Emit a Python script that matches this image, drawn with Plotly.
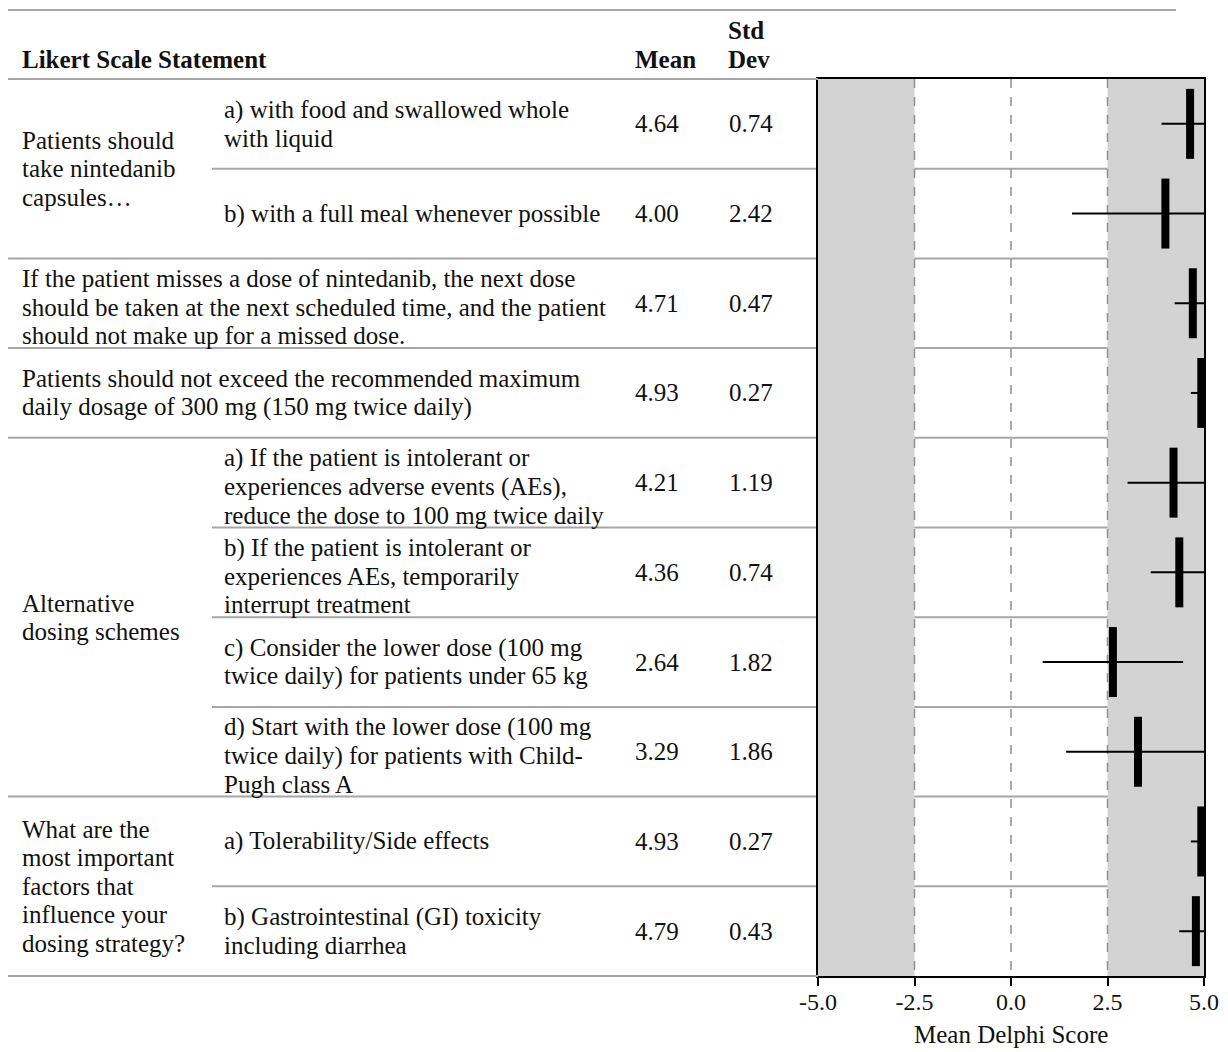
import plotly.graph_objects as go

# ---- data -------------------------------------------------------------
group_labels = [
    "Patients should\ntake nintedanib\ncapsules…",
    "Alternative\ndosing schemes",
    "What are the\nmost important\nfactors that\ninfluence your\ndosing strategy?",
]
group_rows = [(0, 1), (4, 7), (8, 9)]

statements = [
    "a) with food and swallowed whole\nwith liquid",
    "b) with a full meal whenever possible",
    "If the patient misses a dose of nintedanib, the next dose\nshould be taken at the next scheduled time, and the patient\nshould not make up for a missed dose.",
    "Patients should not exceed the recommended maximum\ndaily dosage of 300 mg (150 mg twice daily)",
    "a) If the patient is intolerant or\nexperiences adverse events (AEs),\nreduce the dose to 100 mg twice daily",
    "b) If the patient is intolerant or\nexperiences AEs, temporarily\ninterrupt treatment",
    "c) Consider the lower dose (100 mg\ntwice daily) for patients under 65 kg",
    "d) Start with the lower dose (100 mg\ntwice daily) for patients with Child-\nPugh class A",
    "a) Tolerability/Side effects",
    "b) Gastrointestinal (GI) toxicity\nincluding diarrhea",
]
is_sub_item = [True, True, False, False, True, True, True, True, True, True]

mean_scores = [4.64, 4.00, 4.71, 4.93, 4.21, 4.36, 2.64, 3.29, 4.93, 4.79]
std_devs = [0.74, 2.42, 0.47, 0.27, 1.19, 0.74, 1.82, 1.86, 0.27, 0.43]

tick_values = [-5.0, -2.5, 0.0, 2.5, 5.0]
tick_labels = ["-5.0", "-2.5", "0.0", "2.5", "5.0"]
agree_bands = [(-5.0, -2.5), (2.5, 5.0)]
axis_title = "Mean Delphi Score"

# ---- layout helpers (pixel -> paper) ---------------------------------
W, H = 1228, 1052
PLOT_L, PLOT_R = 818, 1204
PLOT_T, PLOT_B = 79, 976
n_rows = len(mean_scores)
row_h = (PLOT_B - PLOT_T) / n_rows
LINE_PITCH = 28.4


def px(x):
    return x / W


def py(y):
    return 1 - y / H


def row_center(i):
    return PLOT_T + row_h * (i + 0.5)


FONT = "Liberation Serif, Times New Roman, serif"
TXT = "#111111"
FS = 25
SEP = "#a6a6a6"

rows = list(range(n_rows))
y_pos = [r + 0.5 for r in rows]

fig = go.Figure()

# mean markers (thick vertical bar) with +/- SD whiskers
fig.add_trace(go.Scatter(
    x=mean_scores,
    y=y_pos,
    mode="markers",
    marker=dict(size=1, color="rgba(0,0,0,0)"),
    error_x=dict(type="data", array=std_devs, symmetric=True,
                 color="black", thickness=2, width=0),
    error_y=dict(type="constant", value=0.39, color="black",
                 thickness=8, width=0),
    showlegend=False,
    hoverinfo="skip",
))

shapes = []
# shaded bands
for x0, x1 in agree_bands:
    shapes.append(dict(type="rect", xref="x", yref="y", x0=x0, x1=x1,
                       y0=0, y1=n_rows, fillcolor="#d3d3d3",
                       line=dict(width=0), layer="below"))
# dashed reference lines
for xv in tick_values[1:-1]:
    shapes.append(dict(type="line", xref="x", yref="y", x0=xv, x1=xv,
                       y0=0, y1=n_rows,
                       line=dict(color="#8f8f8f", width=1.5, dash="dash"),
                       layer="below"))

# table rules
shapes.append(dict(type="line", xref="paper", yref="paper",
                   x0=px(8), x1=px(1176), y0=py(10), y1=py(10),
                   line=dict(color=SEP, width=2)))
shapes.append(dict(type="line", xref="paper", yref="paper",
                   x0=px(8), x1=px(PLOT_L), y0=py(PLOT_T), y1=py(PLOT_T),
                   line=dict(color=SEP, width=2)))
shapes.append(dict(type="line", xref="paper", yref="paper",
                   x0=px(8), x1=px(PLOT_L), y0=py(PLOT_B), y1=py(PLOT_B),
                   line=dict(color=SEP, width=2)))
for r in range(1, n_rows):
    yb = PLOT_T + row_h * r
    sub = is_sub_item[r] and is_sub_item[r - 1] and not any(
        r == g[0] for g in group_rows)
    x_start = 212 if sub else 8
    shapes.append(dict(type="line", xref="paper", yref="paper",
                       x0=px(x_start), x1=px(PLOT_R), y0=py(yb), y1=py(yb),
                       line=dict(color=SEP, width=2), layer="below"))

annotations = []


def add_block(text, x, yc, bold=False, xanchor="left"):
    """Place a multi-line block, one annotation per line, centred on yc."""
    lines = text.split("\n")
    n = len(lines)
    for k, line in enumerate(lines):
        yl = yc + (k - (n - 1) / 2) * LINE_PITCH
        annotations.append(dict(
            text=f"<b>{line}</b>" if bold else line,
            x=px(x), y=py(yl), xanchor=xanchor))


# header
add_block("Likert Scale Statement", 20, 59, bold=True)
add_block("Mean", 633, 59, bold=True)
add_block("Std\nDev", 726, 45, bold=True)

# group labels
for label, (r0, r1) in zip(group_labels, group_rows):
    yc = (row_center(r0) + row_center(r1)) / 2
    add_block(label, 20, yc)

# statements and statistics
for i in rows:
    yc = row_center(i)
    xs = 222 if is_sub_item[i] else 20
    n_lines = statements[i].count("\n") + 1
    add_block(statements[i], xs, yc + (4 if n_lines > 2 else 0))
    add_block(f"{mean_scores[i]:.2f}", 633, yc)
    add_block(f"{std_devs[i]:.2f}", 727, yc)

# axis title
add_block(axis_title, (PLOT_L + PLOT_R) / 2, 1034, xanchor="center")

for a in annotations:
    a.update(xref="paper", yref="paper", yanchor="middle", align="left",
             showarrow=False, font=dict(family=FONT, size=FS, color=TXT))

fig.update_layout(
    width=W, height=H,
    margin=dict(l=0, r=0, t=0, b=0),
    paper_bgcolor="white",
    plot_bgcolor="rgba(0,0,0,0)",
    shapes=shapes,
    annotations=annotations,
    font=dict(family=FONT, size=FS, color=TXT),
    xaxis=dict(
        domain=[px(PLOT_L), px(PLOT_R)],
        range=[-5, 5],
        tickvals=tick_values,
        ticktext=tick_labels,
        ticks="outside", ticklen=8, tickwidth=2, tickcolor="black",
        ticklabelstandoff=-5,
        showline=True, linecolor="black", linewidth=2, mirror=True,
        showgrid=False, zeroline=False, automargin=False,
        tickfont=dict(family=FONT, size=24, color=TXT),
        fixedrange=True,
    ),
    yaxis=dict(
        domain=[py(PLOT_B), py(PLOT_T)],
        range=[n_rows, 0],
        showticklabels=False, ticks="",
        showline=True, linecolor="black", linewidth=2, mirror=True,
        showgrid=False, zeroline=False, automargin=False,
        fixedrange=True,
    ),
)

fig.write_html("out.html")
